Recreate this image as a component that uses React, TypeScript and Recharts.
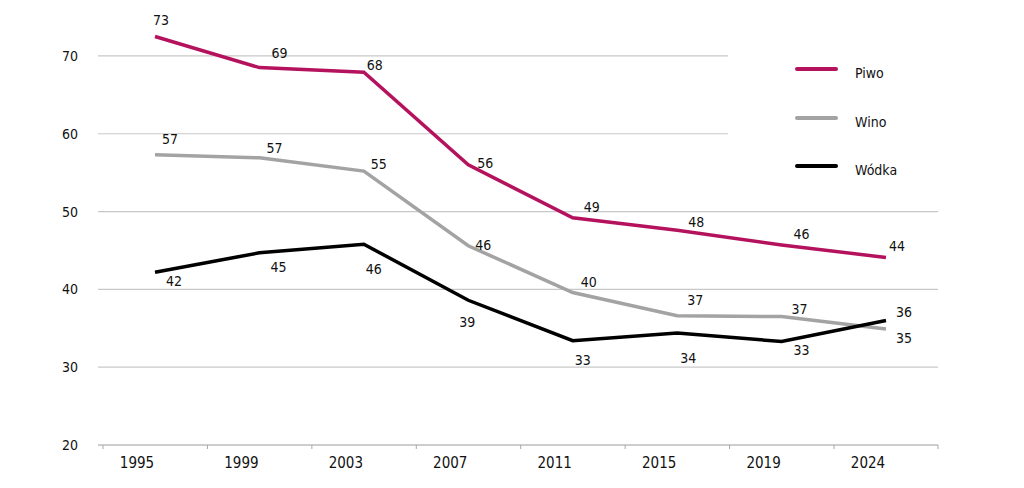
import React from 'react'
import { LineChart, Line, XAxis, YAxis, CartesianGrid, Legend, LabelList } from 'recharts'

const FONT = "'Liberation Sans Narrow', 'DejaVu Sans Condensed', 'Arial Narrow', sans-serif"

const YEARS = ['1995', '1999', '2003', '2007', '2011', '2015', '2019', '2024']
const PIWO = [72.5, 68.5, 67.9, 56.0, 49.2, 47.6, 45.7, 44.1]
const WINO = [57.3, 56.9, 55.2, 45.6, 39.6, 36.6, 36.5, 34.9]
const WODKA = [42.2, 44.7, 45.8, 38.6, 33.4, 34.4, 33.3, 36.0]
const Y_TICKS = [20, 30, 40, 50, 60, 70]
const Y_MIN = 20
const Y_MAX = 75

// where each value label sits relative to its point [dx, dy]
const PIWO_LABELS = [[6, -16], [20, -15], [11, -7], [17, -2], [19, -11], [19, -8], [20, -11], [11, -11]]
const WINO_LABELS = [[15, -16], [15, -10], [15, -7], [15, -1], [16, -10], [18, -16], [18, -8], [18, 9]]
const WODKA_LABELS = [[19, 9], [19, 14], [10, 25], [-1, 22], [10, 19], [11, 25], [20, 8], [18, -8]]

const data = YEARS.map((year, i) => ({ year, piwo: PIWO[i], wino: WINO[i], wodka: WODKA[i] }))

const HALF_STEP = 52

const valueLabel = (offsets: number[][]) => (props: any) => {
  const { x, y, value, index } = props
  const [dx, dy] = offsets[index] || [0, -10]
  return (
    <text x={x + dx} y={y + dy} textAnchor="middle" dominantBaseline="central" fontSize={14} fontFamily={FONT} fill="#111">
      {Math.round(value)}
    </text>
  )
}

const YearTick = (props: any) => {
  const { x, y, payload, index } = props
  return (
    <g>
      <line x1={x - HALF_STEP} y1={y} x2={x - HALF_STEP} y2={y + 4} stroke="#a8a8a8" />
      {index === YEARS.length - 1 && <line x1={x + HALF_STEP} y1={y} x2={x + HALF_STEP} y2={y + 4} stroke="#a8a8a8" />}
      <text x={x - 18} y={y + 18} textAnchor="middle" dominantBaseline="central" fontSize={15} fontFamily={FONT} fill="#111">
        {payload.value}
      </text>
    </g>
  )
}

// grid rows only at the labelled ticks (no line along the top edge)
const gridRows = ({ offset }: any) =>
  Y_TICKS.map((t) => offset.top + ((Y_MAX - t) / (Y_MAX - Y_MIN)) * offset.height)

const renderLegend = (props: any) => {
  const { payload } = props
  return (
    <div style={{ paddingTop: 25 }}>
      {(payload || []).map((entry: any) => (
        <div key={entry.value} style={{ display: 'flex', alignItems: 'center', height: 48.5, paddingLeft: 67 }}>
          <div style={{ width: 43, height: 4, background: entry.color, borderRadius: 2 }} />
          <span style={{ marginLeft: 17, marginTop: 8, fontSize: 14, fontFamily: FONT, color: '#111' }}>{entry.value}</span>
        </div>
      ))}
    </div>
  )
}

export default function App() {
  return (
    <div style={{ fontFamily: FONT }}>
      <style>{'body{margin:0}'}</style>
      <LineChart width={1024} height={488} data={data} margin={{ top: 17, right: 86, left: 0, bottom: 0 }}>
        <CartesianGrid
          horizontal
          vertical={false}
          stroke="#c8c8c8"
          strokeWidth={1.2}
          horizontalCoordinatesGenerator={gridRows}
        />
        <XAxis
          dataKey="year"
          height={43}
          padding={{ left: 57, right: 52 }}
          axisLine={{ stroke: '#b8b8b8', strokeWidth: 1.2 }}
          tickLine={false}
          tickSize={0}
          tickMargin={0}
          tick={<YearTick />}
          interval={0}
        />
        <YAxis
          width={98}
          domain={[Y_MIN, Y_MAX]}
          ticks={Y_TICKS}
          axisLine={false}
          tickLine={false}
          tickSize={0}
          tickMargin={20}
          tick={{ fontSize: 14, fontFamily: FONT, fill: '#111' }}
        />
        <Legend
          layout="vertical"
          align="center"
          verticalAlign="middle"
          content={renderLegend}
          wrapperStyle={{ position: 'absolute', left: 728, top: 20, width: 210, height: 175, background: '#fff' }}
        />
        <Line type="linear" dataKey="piwo" name="Piwo" stroke="#b5125e" strokeWidth={3.5} dot={false} isAnimationActive={false}>
          <LabelList dataKey="piwo" content={valueLabel(PIWO_LABELS)} />
        </Line>
        <Line type="linear" dataKey="wino" name="Wino" stroke="#a3a3a3" strokeWidth={3.5} dot={false} isAnimationActive={false}>
          <LabelList dataKey="wino" content={valueLabel(WINO_LABELS)} />
        </Line>
        <Line type="linear" dataKey="wodka" name="Wódka" stroke="#000000" strokeWidth={3.5} dot={false} isAnimationActive={false}>
          <LabelList dataKey="wodka" content={valueLabel(WODKA_LABELS)} />
        </Line>
      </LineChart>
    </div>
  )
}
